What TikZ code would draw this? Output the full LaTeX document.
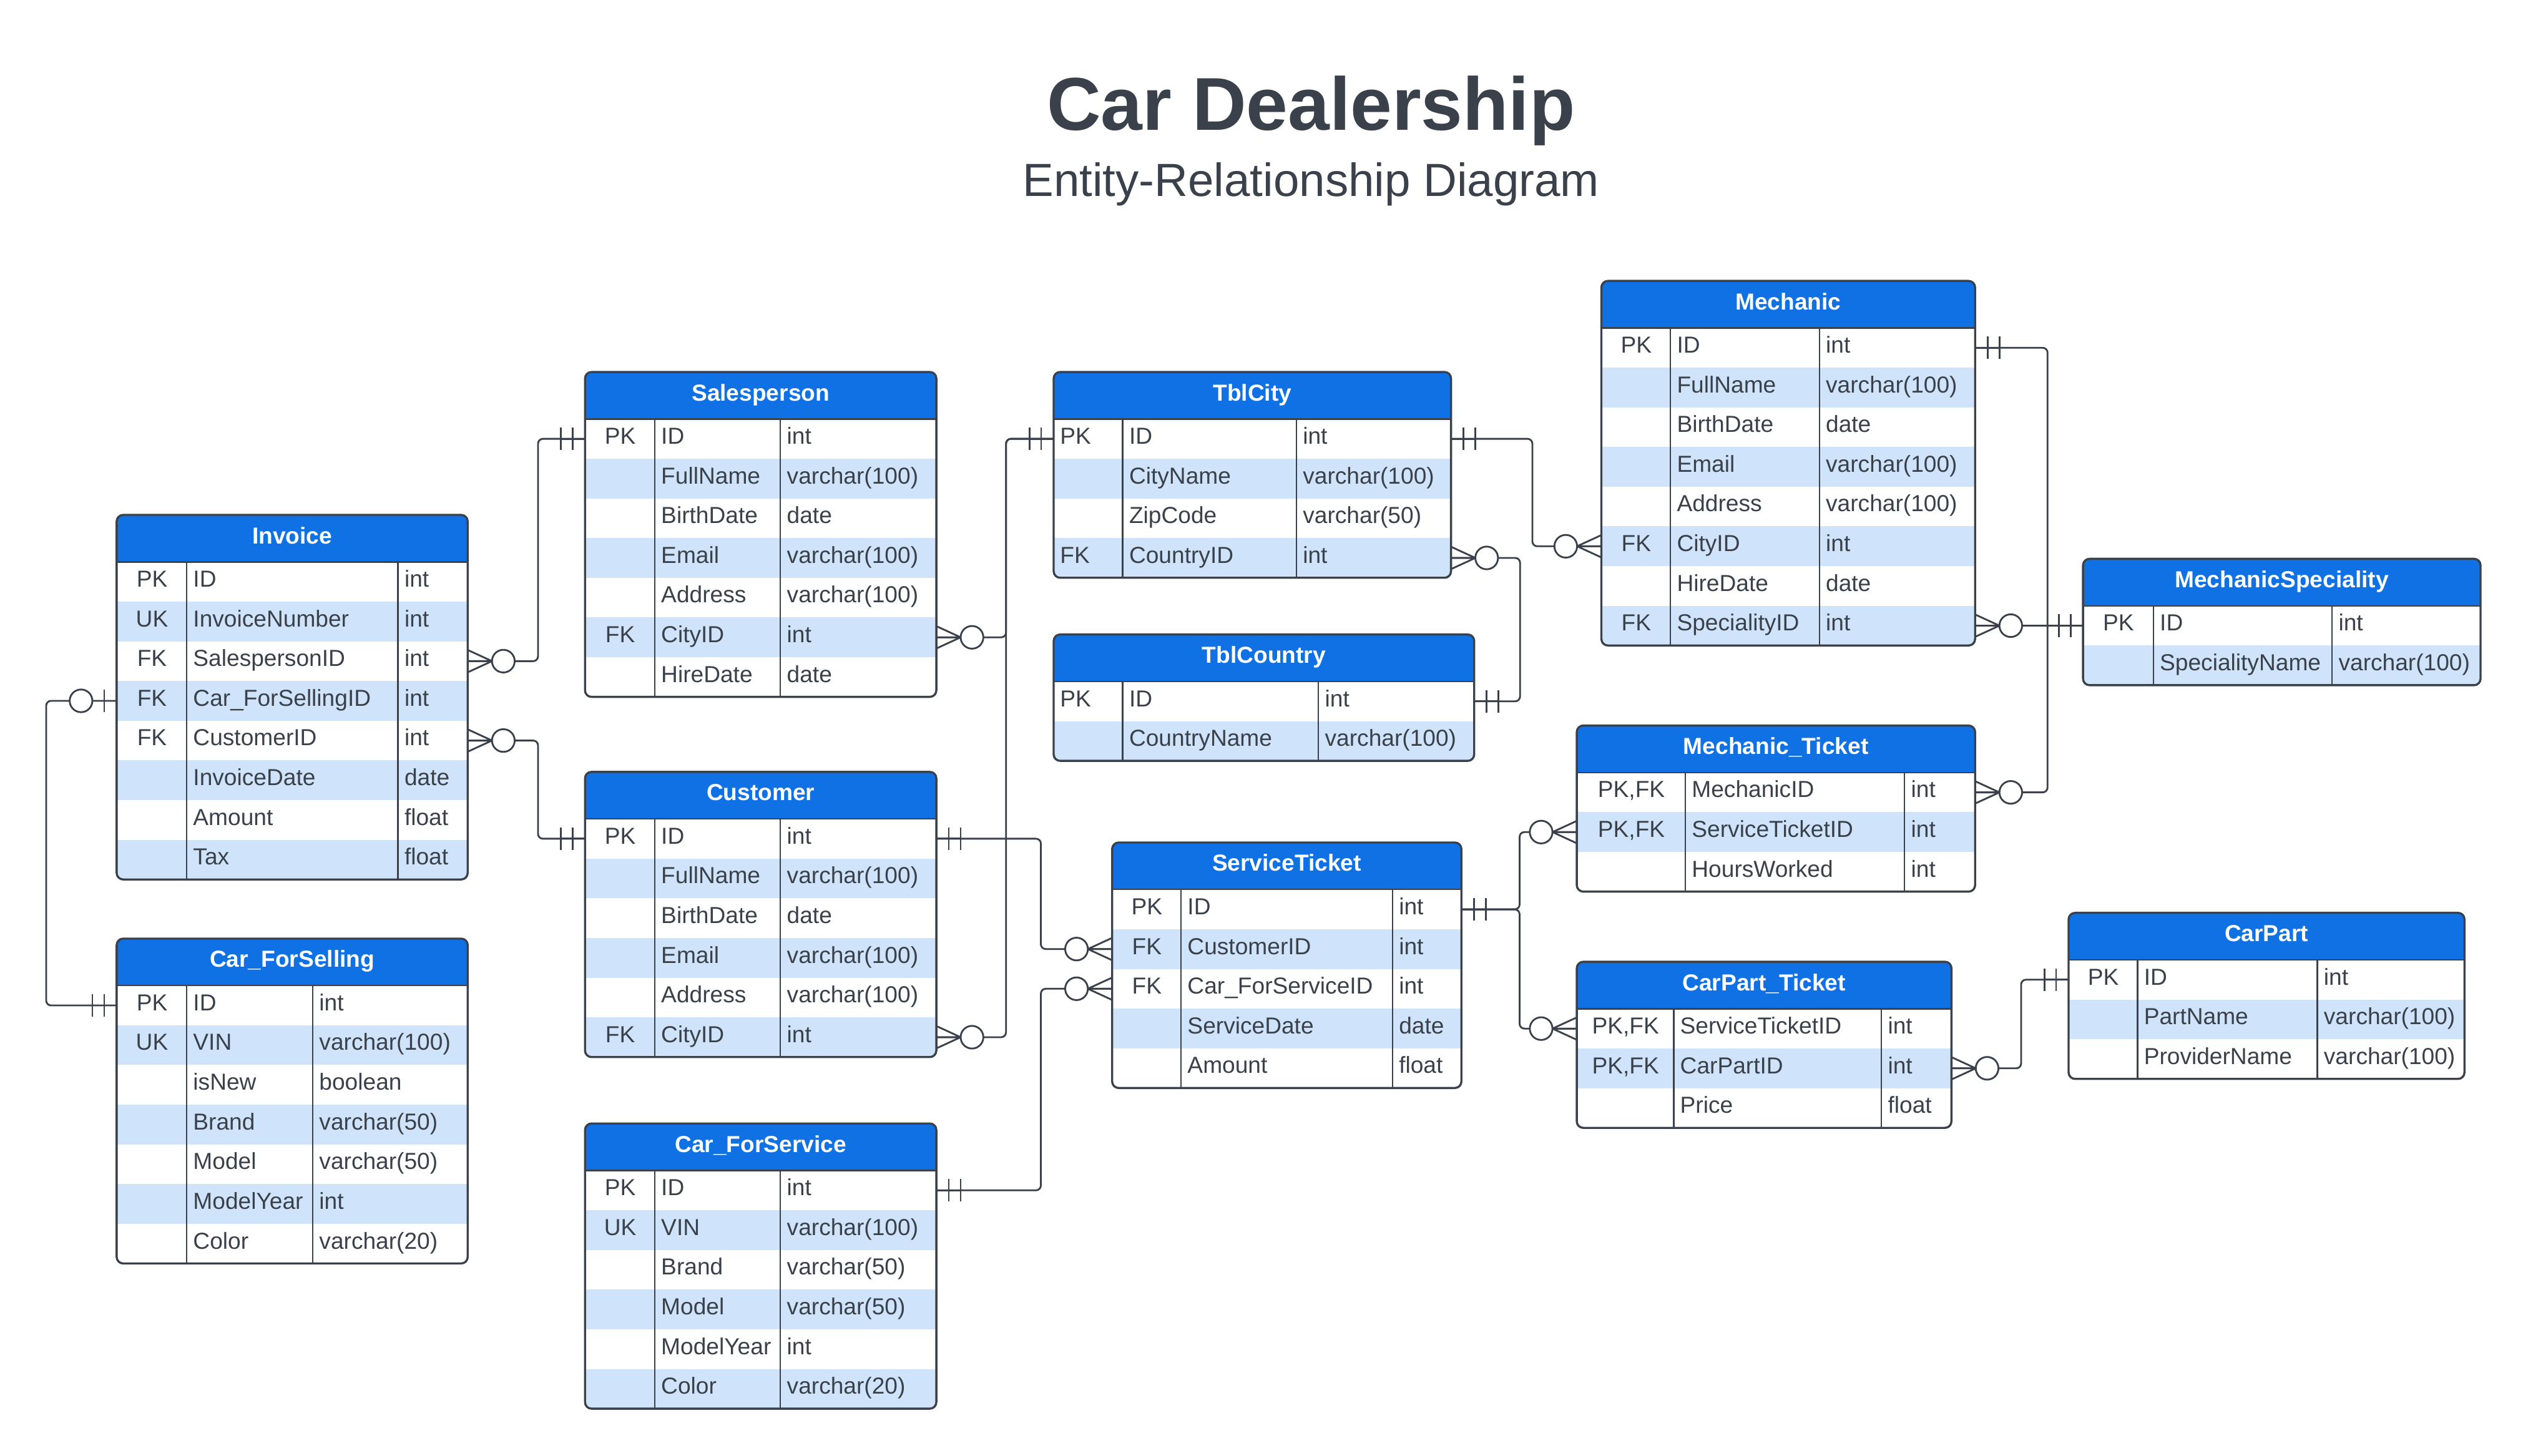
\documentclass[tikz,border=0pt]{standalone}
\usepackage{fontspec}
\setmainfont{Liberation Sans}
\usetikzlibrary{positioning}

\definecolor{ink}{HTML}{3A414A}
\definecolor{headblue}{HTML}{1071E5}
\definecolor{rowblue}{HTML}{CFE4FA}
\newcommand{\rowfont}{\fontsize{14.3}{17}\selectfont}
\newcommand{\pkfk}{PK,FK}

% [key style]{name}{title}{x0}{x1}{x2}{x3}{top}{rows}
\newcommand{\erdtable}[9][keymid]{%
  \foreach \k/\n/\t [count=\i] in {#9} {\xdef\erdrows{\i}}%
  \pgfmathsetmacro\erdhb{#8+29}%
  \pgfmathsetmacro\erdbot{#8+29+24.5*\erdrows}%
  \pgfmathsetmacro\erdkw{#5-#4-7.6}%
  \begin{scope}
    \clip[rounded corners=4pt] (#4,#8) rectangle (#7,\erdbot);
    \node[tblhead, minimum width={(#7-#4)*1pt}, anchor=north west] (#2) at (#4,#8) {#3};
    \foreach \k/\n/\t [count=\i] in {#9} {
      \pgfmathsetmacro\yc{\erdhb+24.5*(\i-0.5)}
      \ifodd\i \def\rowcol{white}\else \def\rowcol{rowblue}\fi
      \node[rowbox, fill=\rowcol, minimum width={(#7-#4)*1pt}, anchor=west] (#2-\i) at (#4,\yc) {};
      \node[cell, #1, text width=\erdkw pt, anchor=west] (#2-\i-k) at (#4,\yc) {\k};
      \node[cell, anchor=west] (#2-\i-n) at (#5,\yc) {\n};
      \node[cell, anchor=west] (#2-\i-t) at (#6,\yc) {\t};
    }
  \end{scope}
  \draw[colline] (#5,\erdhb) -- (#5,\erdbot) (#6,\erdhb) -- (#6,\erdbot);
  \draw[colline] (#4,\erdhb) -- (#7,\erdhb);
  \draw[tblborder, rounded corners=4pt] (#4,#8) rectangle (#7,\erdbot);
}

\begin{document}
\begin{tikzpicture}[x=1pt, y=-1pt,
  tblhead/.style={fill=headblue, text=white, font=\rowfont\bfseries, inner sep=0pt,
    outer sep=0pt, minimum height=29pt, text height=9.6pt, text depth=3.2pt},
  rowbox/.style={inner sep=0pt, outer sep=0pt, minimum height=24.5pt},
  cell/.style={inner xsep=3.8pt, inner ysep=0pt, text=ink, font=\rowfont,
    text height=9.6pt, text depth=3.2pt},
  keymid/.style={align=center},
  keyleft/.style={align=left},
  colline/.style={draw=ink, line width=0.9pt},
  tblborder/.style={draw=ink, line width=1.3pt},
  rel/.style={draw=ink, line width=1.1pt, rounded corners=3pt},
  sym/.style={draw=ink, line width=1.1pt},
  zeromany/.pic={\draw[sym] (0,-6.9) -- (15,0) -- (0,6.9) (0,0) -- (15,0);
    \draw[sym, fill=white] (22,0) circle (7pt);},
  onlyone/.pic={\draw[sym] (0,0) -- (15,0) (7.7,-7) -- (7.7,7) (15,-7) -- (15,7);},
  zeroone/.pic={\draw[sym] (0,0) -- (15,0) (7.7,-7) -- (7.7,7);
    \draw[sym, fill=white] (22,0) circle (7pt);}
]
\useasboundingbox (0,0) rectangle (1560,898.6);

\node[font=\fontsize{46.2}{55}\selectfont\bfseries, text=ink, anchor=base, inner sep=0pt]
  (title) at (809,80.5) {Car Dealership};
\node[font=\fontsize{28.7}{34}\selectfont, text=ink, anchor=base, inner sep=0pt]
  (subtitle) at (809,121.3) {Entity-Relationship Diagram};

% tables
\erdtable{inv}{Invoice}{72}{115.2}{245.6}{288.6}{317.8}{PK/ID/int, UK/InvoiceNumber/int,
  FK/SalespersonID/int, FK/Car\_ForSellingID/int, FK/CustomerID/int, /InvoiceDate/date,
  /Amount/float, /Tax/float}
\erdtable{cfsl}{Car\_ForSelling}{72}{115.2}{193}{288.6}{579.3}{PK/ID/int, UK/VIN/varchar(100),
  /isNew/boolean, /Brand/varchar(50), /Model/varchar(50), /ModelYear/int, /Color/varchar(20)}
\erdtable{sp}{Salesperson}{361}{404}{481.6}{577.8}{229.6}{PK/ID/int, /FullName/varchar(100),
  /BirthDate/date, /Email/varchar(100), /Address/varchar(100), FK/CityID/int, /HireDate/date}
\erdtable{cus}{Customer}{361}{404}{481.6}{577.8}{476.4}{PK/ID/int, /FullName/varchar(100),
  /BirthDate/date, /Email/varchar(100), /Address/varchar(100), FK/CityID/int}
\erdtable{cfsv}{Car\_ForService}{361}{404}{481.6}{577.8}{693.4}{PK/ID/int, UK/VIN/varchar(100),
  /Brand/varchar(50), /Model/varchar(50), /ModelYear/int, /Color/varchar(20)}
\erdtable[keyleft]{city}{TblCity}{650.2}{692.8}{800}{895.4}{229.6}{PK/ID/int,
  /CityName/varchar(100), /ZipCode/varchar(50), FK/CountryID/int}
\erdtable[keyleft]{ctry}{TblCountry}{650.2}{692.8}{813.6}{909.7}{391.6}{PK/ID/int,
  /CountryName/varchar(100)}
\erdtable{st}{ServiceTicket}{686.3}{728.8}{859.3}{901.8}{520}{PK/ID/int, FK/CustomerID/int,
  FK/Car\_ForServiceID/int, /ServiceDate/date, /Amount/float}
\erdtable{mec}{Mechanic}{988.2}{1030.8}{1122.7}{1218.8}{173.4}{PK/ID/int, /FullName/varchar(100),
  /BirthDate/date, /Email/varchar(100), /Address/varchar(100), FK/CityID/int, /HireDate/date,
  FK/SpecialityID/int}
\erdtable{mt}{Mechanic\_Ticket}{973}{1040}{1175.3}{1218.8}{447.8}{\pkfk/MechanicID/int,
  \pkfk/ServiceTicketID/int, /HoursWorked/int}
\erdtable{cpt}{CarPart\_Ticket}{973}{1032.8}{1161}{1204.2}{593.6}{\pkfk/ServiceTicketID/int,
  \pkfk/CarPartID/int, /Price/float}
\erdtable{msp}{MechanicSpeciality}{1285.4}{1328.8}{1439.1}{1530.7}{344.9}{PK/ID/int,
  /SpecialityName/varchar(100)}
\erdtable{cp}{CarPart}{1276.5}{1319}{1430}{1520.8}{563.4}{PK/ID/int, /PartName/varchar(100),
  /ProviderName/varchar(100)}

% relationships
\draw[rel] (inv-3.east) -- ++(43.4,0) |- (sp-1.west);
\draw[rel] (inv-5.east) -- ++(43.4,0) |- (cus-1.west);
\draw[rel] (inv-4.west) -- ++(-43.5,0) |- (cfsl-1.west);
\draw[rel] (sp-6.east) -- ++(43,0) |- (city-1.west);
\draw[rel] (cus-6.east) -- ++(43,0) |- (city-1.west);
\draw[rel] (cus-1.east) -- ++(64.5,0) |- (st-2.west);
\draw[rel] (cfsv-1.east) -- ++(64.5,0) |- (st-3.west);
\draw[rel] (city-1.east) -- ++(50.2,0) |- (mec-6.west);
\draw[rel] (city-4.east) -- ++(42.6,0) |- (ctry-1.east);
\draw[rel] (mec-1.east) -- ++(44.7,0) |- (mt-1.east);
\draw[rel] (mec-8.east) -- (msp-1.west);
\draw[rel] (st-1.east) -- ++(35.9,0) |- (mt-2.west);
\draw[rel] (st-1.east) -- ++(35.9,0) |- (cpt-1.west);
\draw[rel] (cpt-2.east) -- ++(43,0) |- (cp-1.west);

% cardinality ends
\pic at (inv-3.east) {zeromany};
\pic[xscale=-1] at (sp-1.west) {onlyone};
\pic at (inv-5.east) {zeromany};
\pic[xscale=-1] at (cus-1.west) {onlyone};
\pic[xscale=-1] at (inv-4.west) {zeroone};
\pic[xscale=-1] at (cfsl-1.west) {onlyone};
\pic at (sp-6.east) {zeromany};
\pic at (cus-6.east) {zeromany};
\pic[xscale=-1] at (city-1.west) {onlyone};
\pic at (cus-1.east) {onlyone};
\pic[xscale=-1] at (st-2.west) {zeromany};
\pic at (cfsv-1.east) {onlyone};
\pic[xscale=-1] at (st-3.west) {zeromany};
\pic at (city-1.east) {onlyone};
\pic[xscale=-1] at (mec-6.west) {zeromany};
\pic at (city-4.east) {zeromany};
\pic at (ctry-1.east) {onlyone};
\pic at (mec-1.east) {onlyone};
\pic at (mt-1.east) {zeromany};
\pic at (mec-8.east) {zeromany};
\pic[xscale=-1] at (msp-1.west) {onlyone};
\pic at (st-1.east) {onlyone};
\pic[xscale=-1] at (mt-2.west) {zeromany};
\pic[xscale=-1] at (cpt-1.west) {zeromany};
\pic at (cpt-2.east) {zeromany};
\pic[xscale=-1] at (cp-1.west) {onlyone};
\end{tikzpicture}
\end{document}
